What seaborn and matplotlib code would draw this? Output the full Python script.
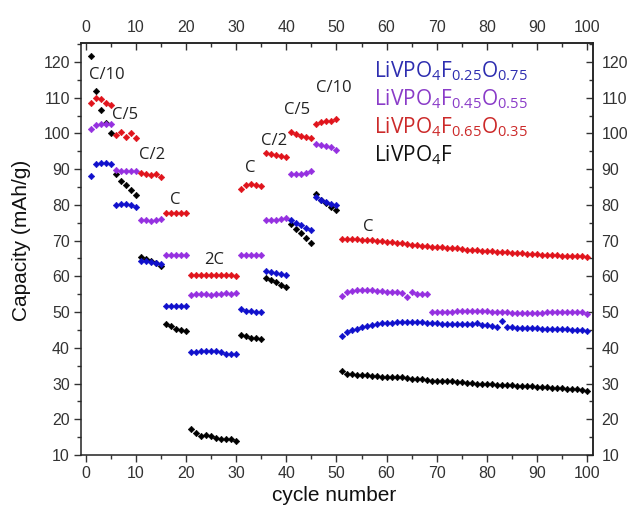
import numpy as np
import pandas as pd
import matplotlib
matplotlib.use("Agg")
import matplotlib.pyplot as plt
from matplotlib.ticker import MultipleLocator
import seaborn as sns

# ---- discharge capacity (mAh/g) per cycle, cycles 1..100 ----
cycles = list(range(1, 101))

cap_f025 = [
    88.0, 91.4, 91.8, 91.8, 91.5,
    80.1, 80.3, 80.2, 79.9, 79.5,
    64.3, 64.2, 64.0, 63.8, 63.4,
    51.6, 51.7, 51.7, 51.6, 51.6,
    38.7, 38.9, 39.0, 39.0, 39.0, 39.0, 38.8, 38.4, 38.3, 38.2,
    50.8, 50.4, 50.3, 50.1, 50.0,
    61.4, 61.1, 60.9, 60.7, 60.4,
    75.8, 75.0, 74.4, 73.5, 73.0,
    82.3, 81.5, 80.8, 80.3, 79.9,
    43.4, 44.3, 44.9, 45.4, 45.8, 46.2, 46.5, 46.7, 46.9, 47.0,
    47.0, 47.1, 47.1, 47.1, 47.1, 47.1, 47.1, 47.0, 47.0, 46.9,
    46.8, 46.8, 46.7, 46.7, 46.6, 46.6, 46.7, 46.9, 46.3, 46.4,
    46.1, 45.9, 47.6, 45.7, 45.7, 45.6, 45.6, 45.6, 45.5, 45.5,
    45.4, 45.4, 45.3, 45.3, 45.2, 45.2, 45.1, 45.1, 45.0, 44.7,
]

cap_f045 = [
    101.1, 102.4, 102.7, 102.7, 102.6,
    89.8, 89.6, 89.5, 89.5, 89.4,
    75.9, 75.7, 75.5, 75.8, 76.1,
    66.0, 66.1, 66.1, 66.0, 66.0,
    54.7, 55.0, 55.1, 55.0, 54.8, 55.0, 55.1, 55.2, 55.0, 55.3,
    66.0, 66.1, 66.1, 66.0, 66.0,
    75.8, 75.8, 75.9, 76.0, 76.3,
    88.6, 88.6, 88.6, 88.8, 89.4,
    97.1, 96.7, 96.6, 96.2, 95.3,
    54.5, 55.6, 56.0, 56.2, 56.3, 56.3, 56.1, 56.0, 55.8, 55.7,
    55.6, 55.5, 55.2, 54.1, 55.5, 55.1, 55.0, 55.0,
    49.9, 50.0, 50.0, 50.1, 50.1, 50.2, 50.2, 50.2, 50.3, 50.2, 50.2, 50.2,
    50.1, 50.1, 50.0, 50.0, 49.8, 49.7, 49.6, 49.7, 49.8, 49.8, 49.8, 49.9,
    49.9, 49.9, 50.0, 50.0, 50.1, 50.0, 49.9, 49.5,
]

cap_f065 = [
    108.5, 110.0, 109.5, 108.6, 108.0,
    99.5, 100.5, 99.1, 100.0, 98.8,
    88.9, 88.6, 88.3, 88.5, 87.9,
    77.6, 77.7, 77.6, 77.7, 77.6,
    60.3, 60.3, 60.3, 60.4, 60.3, 60.4, 60.4, 60.3, 60.3, 60.1,
    84.5, 85.6, 85.9, 85.7, 85.4,
    94.6, 94.3, 94.0, 93.8, 93.5,
    100.3, 99.7, 99.3, 99.1, 98.8,
    102.5, 103.1, 103.4, 103.6, 103.9,
    70.4, 70.4, 70.4, 70.4, 70.3, 70.3, 70.1, 69.9, 69.8, 69.6,
    69.5, 69.3, 69.2, 69.0, 68.9, 68.7, 68.6, 68.5, 68.3, 68.2,
    68.1, 68.0, 67.9, 67.8, 67.7, 67.5, 67.4, 67.3, 67.2, 67.1,
    67.0, 66.9, 66.8, 66.7, 66.6, 66.5, 66.4, 66.3, 66.3, 66.2,
    66.1, 66.0, 65.9, 65.9, 65.8, 65.7, 65.7, 65.6, 65.6, 65.5,
]

cap_f1 = [
    121.7, 111.9, 106.6, 103.0, 100.1,
    88.6, 86.8, 85.5, 84.2, 82.7,
    65.5, 64.8, 64.2, 63.6, 62.8,
    46.7, 46.0, 45.4, 45.1, 44.6,
    17.2, 16.2, 15.4, 15.6, 15.4, 14.7, 14.5, 14.6, 14.4, 13.8,
    43.6, 43.2, 42.8, 42.7, 42.5,
    59.6, 59.0, 58.4, 57.7, 57.0,
    74.6, 73.2, 72.1, 70.7, 69.4,
    83.0, 81.4, 80.5, 79.5, 78.5,
    33.4, 32.8, 32.6, 32.5, 32.5, 32.4, 32.2, 32.0, 31.9, 31.9,
    31.9, 31.8, 31.7, 31.5, 31.3, 31.2, 31.2, 31.0, 30.8, 30.8,
    30.7, 30.6, 30.6, 30.5, 30.3, 30.2, 30.1, 30.0, 30.0, 29.9,
    29.8, 29.7, 29.7, 29.6, 29.5, 29.4, 29.4, 29.3, 29.2, 29.0,
    28.9, 28.9, 28.8, 28.7, 28.7, 28.6, 28.5, 28.4, 28.3, 28.0,
]

series_names = ["F0.25O0.75", "F0.45O0.55", "F0.65O0.35", "F1"]
series_labels = [r"LiVPO$_4$F$_{0.25}$O$_{0.75}$",
                 r"LiVPO$_4$F$_{0.45}$O$_{0.55}$",
                 r"LiVPO$_4$F$_{0.65}$O$_{0.35}$",
                 r"LiVPO$_4$F"]
marker_colors = ["#1010cc", "#9530e0", "#e0141c", "#000000"]
text_colors = ["#2e2eb0", "#8a3cc8", "#cc2a2a", "#111111"]

# C-rate annotations: (text, cycle, capacity)
rate_labels = ["C/10", "C/5", "C/2", "C", "2C", "C", "C/2", "C/5", "C/10", "C"]
rate_x = [4.2, 7.8, 13.1, 17.8, 25.5, 32.8, 37.5, 42.1, 49.5, 56.4]
rate_y = [116.4, 105.2, 94.0, 81.4, 64.6, 90.3, 98.0, 106.6, 112.6, 73.8]

df = pd.concat([
    pd.DataFrame({"cycle": cycles, "capacity": vals, "sample": name})
    for name, vals in zip(series_names, [cap_f025, cap_f045, cap_f065, cap_f1])
], ignore_index=True)

sns.set_style("ticks")
plt.rcParams["font.family"] = ["Liberation Sans", "DejaVu Sans"]
plt.rcParams["mathtext.fontset"] = "custom"
plt.rcParams["mathtext.rm"] = "Open Sans"
plt.rcParams["mathtext.default"] = "rm"

fig = plt.figure(figsize=(6.32, 5.09), dpi=100)
ax = fig.add_axes([81 / 632, 1 - 455 / 509, 512 / 632, 412 / 509])

# black first, colored series stacked on top
order = ["F1", "F0.25O0.75", "F0.45O0.55", "F0.65O0.35"]
palette = dict(zip(series_names, marker_colors))
for name in order:
    sns.scatterplot(data=df[df["sample"] == name], x="cycle", y="capacity",
                    color=palette[name], marker="D", s=11, linewidth=0.4,
                    edgecolor=palette[name], ax=ax, legend=False, zorder=3)

ax.set_xlim(-1, 101.2)
ax.set_ylim(10, 125.3)
ax.set_xticks(range(0, 101, 10))
ax.set_yticks(range(10, 121, 10))
ax.xaxis.set_minor_locator(MultipleLocator(5))
ax.yaxis.set_minor_locator(MultipleLocator(5))
tick_col = "#333333"
ax.tick_params(which="major", direction="out", length=5, width=1.0,
               labelsize=11.5, colors=tick_col, pad=3)
ax.tick_params(which="minor", direction="out", length=3, width=1.0,
               colors=tick_col)

for sp in ax.spines.values():
    sp.set_linewidth(1.1)
    sp.set_color("#222222")

# top and right axes with inward ticks and their own labels
top = ax.secondary_xaxis("top")
top.set_xticks(range(0, 101, 10))
top.xaxis.set_minor_locator(MultipleLocator(5))
top.tick_params(which="major", direction="in", length=5, width=1.0,
                labelsize=11.5, colors=tick_col, pad=6)
top.tick_params(which="minor", direction="in", length=3, width=1.0,
                colors=tick_col)
top.spines["top"].set_linewidth(1.1)

right = ax.secondary_yaxis("right")
right.set_yticks(range(10, 121, 10))
right.yaxis.set_minor_locator(MultipleLocator(5))
right.tick_params(which="major", direction="in", length=5, width=1.0,
                  labelsize=11.5, colors=tick_col, pad=6)
right.tick_params(which="minor", direction="in", length=3, width=1.0,
                  colors=tick_col)
right.spines["right"].set_linewidth(1.1)

ax.set_xlabel("cycle number", fontsize=15, color="#111111")
ax.set_ylabel("Capacity (mAh/g)", fontsize=15, color="#111111")
ax.xaxis.set_label_coords(0.494, -0.075)
ax.yaxis.set_label_coords(-0.098, 0.52)

for txt, x, y in zip(rate_labels, rate_x, rate_y):
    ax.text(x, y, txt, fontsize=12, family="Open Sans", color="#222222",
            ha="center", va="center", zorder=4)

legend_y = [115.6, 107.8, 100.0, 92.3]
for lab, col, y in zip(series_labels, text_colors, legend_y):
    ax.text(57.4, y, lab, fontsize=15, family="Open Sans", color=col,
            ha="left", va="baseline", zorder=4)

fig.savefig("out.png", dpi=100)
